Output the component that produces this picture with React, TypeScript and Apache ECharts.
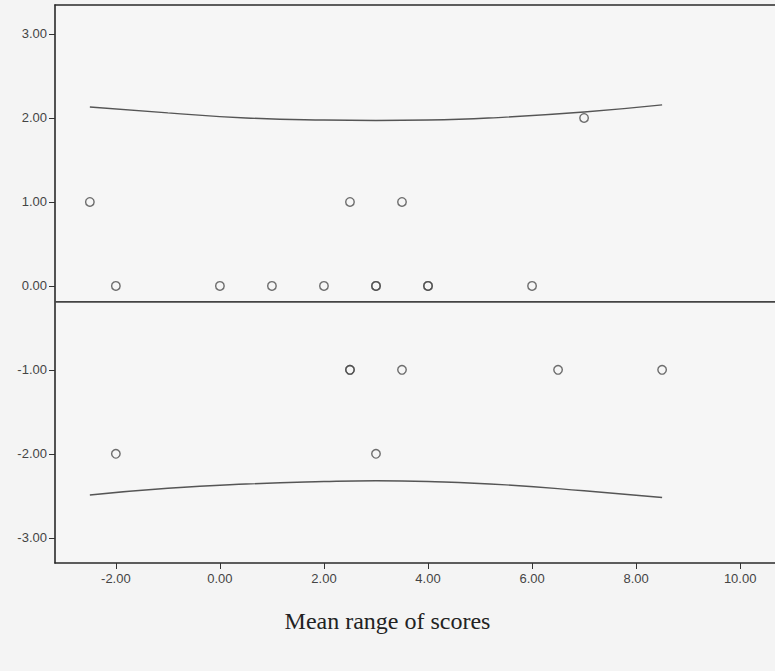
import React, { useEffect, useRef } from "react";
import * as echarts from "echarts";

const xTicks = [-2, 0, 2, 4, 6, 8, 10];
const yTicks = [-3, -2, -1, 0, 1, 2, 3];

// observed points [mean range, difference]; repeated entries overlap (darker rings)
const pointsX = [-2.5, 7, 2.5, 3.5, -2, 0, 1, 2, 3, 3, 4, 4, 6, 2.5, 2.5, 3.5, 6.5, 8.5, -2, 3];
const pointsY = [1, 2, 1, 1, 0, 0, 0, 0, 0, 0, 0, 0, 0, -1, -1, -1, -1, -1, -2, -2];

const meanDiff = -0.19;

const curveX = [-2.5, -1, 0.5, 2, 3, 4, 5.5, 7, 8.5];
const upperY = [2.13, 2.06, 2.0, 1.975, 1.97, 1.975, 2.01, 2.07, 2.155];
const lowerY = [-2.49, -2.41, -2.36, -2.33, -2.32, -2.33, -2.37, -2.44, -2.52];

const fmt = (v: number) => v.toFixed(2);

export default function App() {
  const ref = useRef<HTMLDivElement>(null);
  useEffect(() => {
    if (!ref.current) return;
    const chart = echarts.init(ref.current, null, { renderer: "svg" });
    const labelStyle = {
      color: "#444",
      fontSize: 13,
      fontFamily: "Liberation Sans, Arial, sans-serif",
    };
    const axisLine = { show: true, onZero: false, lineStyle: { color: "#2a2a2a", width: 1.6 } };
    chart.setOption({
      animation: false,
      backgroundColor: "#f4f4f4",
      grid: {
        left: 55,
        top: 5,
        right: 0,
        bottom: 108,
        show: true,
        borderWidth: 0,
        backgroundColor: "#f6f6f6",
      },
      xAxis: [
        {
          type: "value",
          min: -3.17,
          max: 10.67,
          splitLine: { show: false },
          axisLine,
          axisTick: { show: true, length: 6, customValues: xTicks, lineStyle: { color: "#333" } },
          axisLabel: { ...labelStyle, margin: 9, customValues: xTicks, formatter: fmt },
        },
        {
          type: "value",
          position: "top",
          min: -3.17,
          max: 10.67,
          splitLine: { show: false },
          axisLine,
          axisTick: { show: false },
          axisLabel: { show: false },
        },
      ],
      yAxis: {
        type: "value",
        min: -3.3,
        max: 3.345,
        splitLine: { show: false },
        axisLine,
        axisTick: { show: true, length: 6, customValues: yTicks, lineStyle: { color: "#333" } },
        axisLabel: { ...labelStyle, margin: 8, customValues: yTicks, formatter: fmt },
      },
      series: [
        {
          type: "line",
          data: [
            [-3.17, meanDiff],
            [10.67, meanDiff],
          ],
          symbol: "none",
          lineStyle: { color: "#444", width: 1.6 },
          z: 1,
        },
        {
          type: "line",
          data: curveX.map((x, i) => [x, upperY[i]]),
          smooth: 0.5,
          symbol: "none",
          lineStyle: { color: "#555", width: 1.4 },
        },
        {
          type: "line",
          data: curveX.map((x, i) => [x, lowerY[i]]),
          smooth: 0.5,
          symbol: "none",
          lineStyle: { color: "#555", width: 1.4 },
        },
        {
          type: "scatter",
          data: pointsX.map((x, i) => [x, pointsY[i]]),
          symbol: "circle",
          symbolSize: 8.5,
          itemStyle: { color: "rgba(0,0,0,0)", borderColor: "#4a4a4a", borderWidth: 1.4 },
          z: 3,
        },
      ],
      graphic: [
        {
          type: "text",
          left: "center",
          top: 609,
          style: {
            text: "Mean range of scores",
            fontSize: 24,
            fontFamily: "Liberation Serif, Times New Roman, serif",
            fill: "#222",
          },
        },
      ],
    });
    return () => chart.dispose();
  }, []);
  return (
    <div
      ref={ref}
      style={{ position: "fixed", left: 0, top: 0, width: 775, height: 671 }}
    />
  );
}
